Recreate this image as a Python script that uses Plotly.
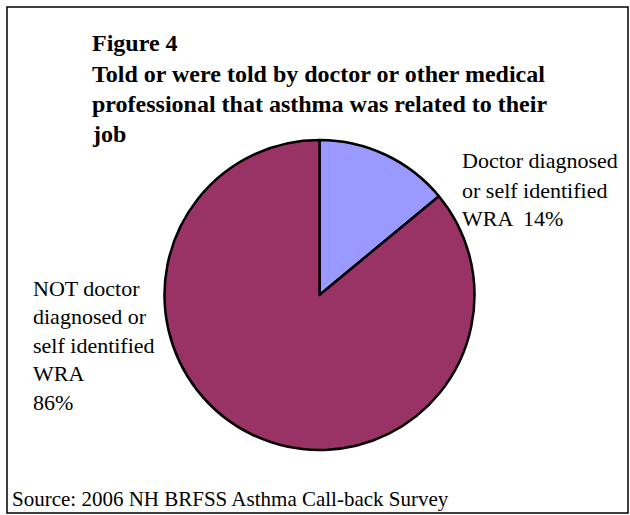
import plotly.graph_objects as go

W, H = 630, 515

labels = ["Doctor diagnosed or self identified WRA", "NOT doctor diagnosed or self identified WRA"]
values = [14, 86]
colors = ["#9999FF", "#993366"]

title_lines = ["Figure 4",
               "Told or were told by doctor or other medical",
               "professional that asthma was related to their",
               "job"]
right_label_lines = ["Doctor diagnosed", "or self identified", "WRA  14%"]
left_label_lines = ["NOT doctor", "diagnosed or", "self identified", "WRA", "86%"]
source_text = "Source: 2006 NH BRFSS Asthma Call-back Survey"

def px(x):
    return x / W

def py(y):
    return 1 - y / H

cx, cy, r = 319.5, 295, 155

fig = go.Figure()
fig.add_trace(go.Pie(
    labels=labels, values=values,
    marker=dict(colors=colors, line=dict(color="black", width=2.5)),
    sort=False, direction="clockwise", rotation=0,
    textinfo="none", hoverinfo="label+percent",
    domain=dict(x=[px(cx - r), px(cx + r)], y=[py(cy + r), py(cy - r)]),
    showlegend=False,
))

serif = "Liberation Serif, Times New Roman, serif"
annotations = []
title_y = [43, 74, 104, 134]
for t, y in zip(title_lines, title_y):
    annotations.append(dict(text="<b>%s</b>" % t, x=px(90), y=py(y), xref="paper", yref="paper",
                            xanchor="left", yanchor="middle", showarrow=False,
                            font=dict(family=serif, size=24, color="black")))
for i, t in enumerate(right_label_lines):
    annotations.append(dict(text=t, x=px(460), y=py(161 + 29 * i), xref="paper", yref="paper",
                            xanchor="left", yanchor="middle", showarrow=False,
                            font=dict(family=serif, size=22, color="black")))
for i, t in enumerate(left_label_lines):
    annotations.append(dict(text=t, x=px(31), y=py(288 + 28.6 * i), xref="paper", yref="paper",
                            xanchor="left", yanchor="middle", showarrow=False,
                            font=dict(family=serif, size=22, color="black")))
annotations.append(dict(text=source_text, x=px(10), y=py(499), xref="paper", yref="paper",
                        xanchor="left", yanchor="middle", showarrow=False,
                        font=dict(family=serif, size=21, color="black")))

fig.update_layout(
    width=W, height=H,
    margin=dict(l=0, r=0, t=0, b=0),
    paper_bgcolor="white", plot_bgcolor="white",
    annotations=annotations,
    shapes=[dict(type="rect", xref="paper", yref="paper",
                 x0=px(7), x1=px(628), y0=py(513), y1=py(7),
                 line=dict(color="black", width=1.5))],
)

fig.write_html("out.html")
